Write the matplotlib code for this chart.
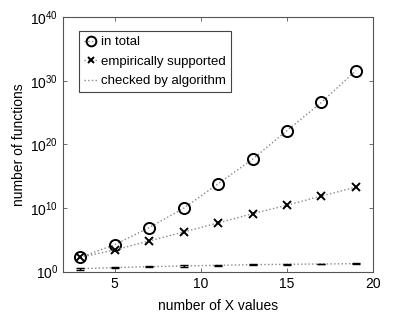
import numpy as np
import matplotlib
matplotlib.use('Agg')
from matplotlib import pyplot as plt

# values
n_values = [3, 5, 7, 9, 11, 13, 15, 17, 19]
in_total = [1.8e2, 1.8e4, 8.3e6, 9.3e9, 6.3e13, 4.7e17, 1.5e22, 4.0e26, 4.0e31]
empirical = [1.8e2, 2.6e3, 6.8e4, 1.7e6, 4.6e7, 1.3e9, 2.8e10, 7.9e11, 1.9e13]
checked = [3.0, 4.3, 6.2, 7.9, 10.0, 12.6, 14.5, 16.2, 18.2]
checked_lo = [2.0, 3.2, 4.9, 6.4, 8.3, 10.7, 12.4, 14.0, 15.8]
checked_hi = [4.4, 5.6, 7.7, 9.6, 12.0, 14.8, 16.9, 18.7, 20.9]

x_ticks = [5, 10, 15, 20]
y_ticks = [1e0, 1e10, 1e20, 1e30, 1e40]
y_labels = ['$10^{0}$', '$10^{10}$', '$10^{20}$', '$10^{30}$', '$10^{40}$']

plt.rcParams['font.family'] = ['Liberation Sans', 'DejaVu Sans']
plt.rcParams['mathtext.fontset'] = 'custom'
plt.rcParams['mathtext.rm'] = 'Liberation Sans'
plt.rcParams['mathtext.it'] = 'Liberation Sans'
plt.rcParams['mathtext.default'] = 'regular'

fig = plt.figure(figsize=(3.99, 3.13), dpi=100)
ax = fig.add_axes([0.158, 0.132, 0.777, 0.813])

line_kw = dict(color='#888888', linestyle=':', linewidth=1.0)

ax.plot(n_values, in_total, **line_kw)
ax.plot(n_values, in_total, linestyle='none', marker='o', markersize=8,
        markerfacecolor='none', markeredgecolor='black', markeredgewidth=1.4)
ax.plot(n_values, empirical, **line_kw)
ax.plot(n_values, empirical, linestyle='none', marker='x', markersize=5.5,
        markeredgecolor='black', markeredgewidth=1.4)

chk = np.array(checked)
yerr = [chk - np.array(checked_lo), np.array(checked_hi) - chk]
ax.plot(n_values, checked, **line_kw)
ax.errorbar(n_values, checked, yerr=yerr, fmt='none', ecolor='black',
            elinewidth=1.0, capsize=3, capthick=1.0)

# legend handles
h1, = ax.plot([], [], marker='o', markersize=7, markerfacecolor='none',
              markeredgecolor='black', markeredgewidth=1.4, **line_kw)
h2, = ax.plot([], [], marker='x', markersize=5, markeredgecolor='black',
              markeredgewidth=1.4, **line_kw)
h3, = ax.plot([], [], **line_kw)

ax.set_yscale('log')
ax.set_xlim(2, 20)
ax.set_ylim(1e0, 1e40)
ax.set_xticks(x_ticks)
ax.set_yticks(y_ticks)
ax.set_yticklabels(y_labels)
ax.minorticks_off()
ax.tick_params(direction='in', top=True, right=True, length=3, width=0.6,
               colors='#555555', labelcolor='black', labelsize=10)
for s in ax.spines.values():
    s.set_color('#555555')
    s.set_linewidth(0.8)

ax.set_xlabel('number of X values', fontsize=10, labelpad=6)
ax.set_ylabel('number of functions', fontsize=10, labelpad=3)

leg = ax.legend([h1, h2, h3], ['in total', 'empirically supported', 'checked by algorithm'],
                loc='upper left', bbox_to_anchor=(0.052, 0.947), borderaxespad=0,
                fontsize=9.5, handlelength=1.0, handletextpad=0.25, labelspacing=0.55,
                borderpad=0.4, fancybox=False, framealpha=1)
leg.get_frame().set_edgecolor('#444444')
leg.get_frame().set_linewidth(0.8)

fig.savefig('out.png', dpi=100)
